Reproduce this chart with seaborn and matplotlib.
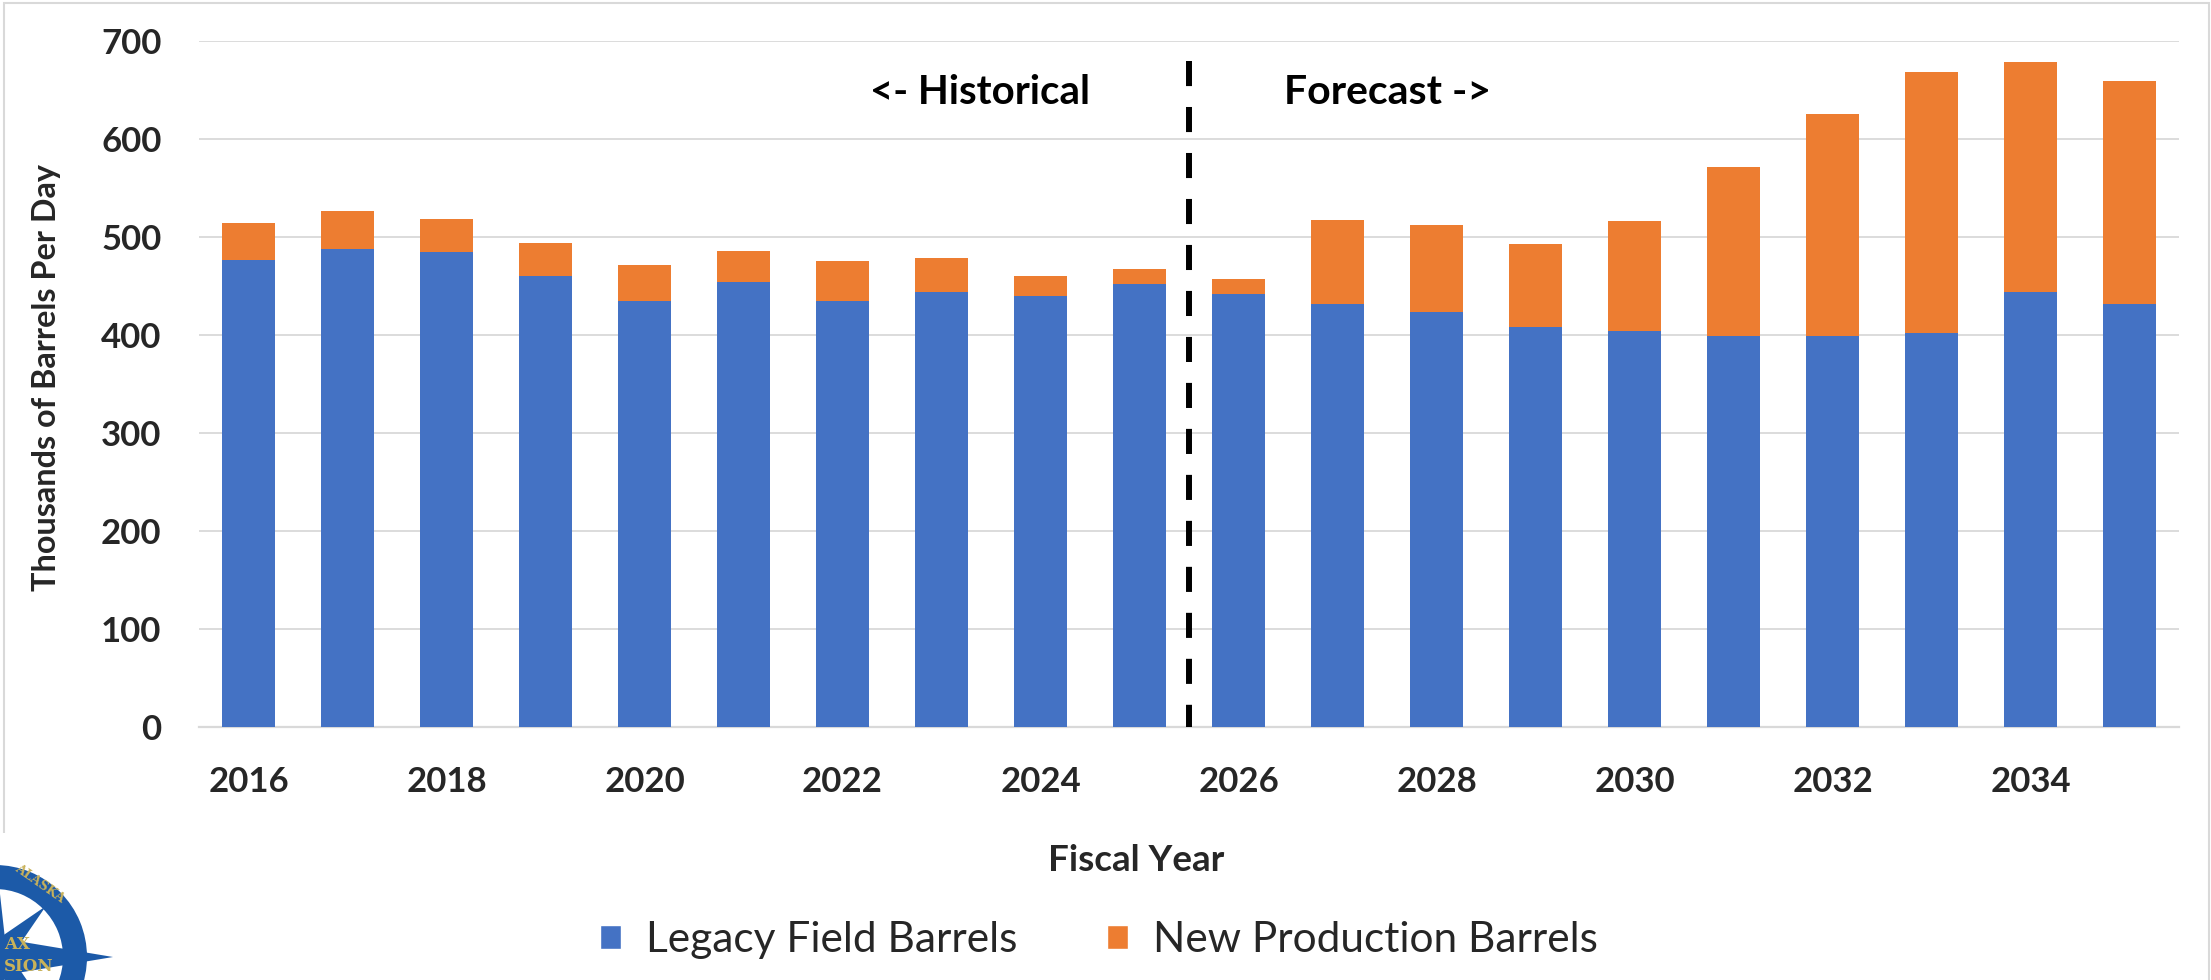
import matplotlib
matplotlib.use("Agg")
import matplotlib.pyplot as plt
import seaborn as sns
import numpy as np
from matplotlib.patches import Rectangle, Wedge, Polygon, Patch

# ---------------- data ----------------
years = [str(y) for y in range(2016, 2036)]
legacy = [476, 488, 484, 460, 435, 454, 435, 444, 440, 452,
          442, 431, 423, 408, 404, 399, 399, 402, 444, 431]
new_prod = [38, 38, 34, 34, 36, 32, 40, 34, 20, 15,
            15, 86, 89, 85, 112, 172, 226, 266, 234, 228]
tick_years = ["2016", "2018", "2020", "2022", "2024",
              "2026", "2028", "2030", "2032", "2034"]
series_names = ["Legacy Field Barrels", "New Production Barrels"]
y_ticks = [0, 100, 200, 300, 400, 500, 600, 700]

BLUE = "#4472C4"
ORANGE = "#ED7D31"
GRID = "#D9D9D9"

sns.set_style("white")
plt.rcParams["font.family"] = ["Lato", "DejaVu Sans"]

W, H = 2211, 980
fig = plt.figure(figsize=(W / 100, H / 100), dpi=100)

def fx(px):
    return px / W

def fy(py):
    return 1 - py / H

# outer light border
fig.patches.append(Rectangle((fx(4), fy(1100)), fx(2209) - fx(4), fy(3) - fy(1100),
                             transform=fig.transFigure, fill=False,
                             edgecolor=GRID, linewidth=1.5, zorder=-2))

ax = fig.add_axes([fx(199), fy(727), fx(2179) - fx(199), fy(40.7) - fy(727)])

totals = [a + b for a, b in zip(legacy, new_prod)]
sns.barplot(x=years, y=totals, color=ORANGE, saturation=1, width=0.53,
            ax=ax, zorder=2, linewidth=0)
sns.barplot(x=years, y=legacy, color=BLUE, saturation=1, width=0.53,
            ax=ax, zorder=3, linewidth=0)

ax.set_xlim(-0.5, len(years) - 0.5)
ax.set_ylim(0, 700)
ax.set_yticks(y_ticks)
ax.set_yticklabels([str(v) for v in y_ticks], fontsize=25, fontweight="bold")
ax.set_xticks([years.index(t) for t in tick_years])
ax.set_xticklabels(tick_years, fontsize=25, fontweight="bold")
ax.tick_params(axis="y", length=0, pad=27)
ax.tick_params(axis="x", length=0, pad=28)
ax.set_xlabel("")
ax.set_ylabel("")

ax.set_axisbelow(True)
ax.yaxis.grid(True, color=GRID, linewidth=1.3, zorder=0)
for s in ["top", "right", "left"]:
    ax.spines[s].set_visible(False)
ax.spines["bottom"].set_color(GRID)
ax.spines["bottom"].set_linewidth(1.6)

# divider
ax.plot([9.5, 9.5], [679, 0], color="black", linewidth=4.3,
        linestyle=(0, (4.2, 3.5)), zorder=5, solid_capstyle="butt")
ax.text(8.5, 647, "<- Historical", ha="right", va="center",
        fontsize=29, fontweight="bold", color="black")
ax.text(10.46, 647, "Forecast ->", ha="left", va="center",
        fontsize=29.5, fontweight="bold", color="black")

fig.text(fx(47), fy(377), "Thousands of Barrels Per Day", rotation=90,
         ha="center", va="center", fontsize=23.3, fontweight="bold")
fig.text(fx(1136), fy(860), "Fiscal Year", ha="center", va="center",
         fontsize=26.5, fontweight="bold")

handles = [Patch(facecolor=BLUE), Patch(facecolor=ORANGE)]
fig.legend(handles, series_names, ncol=2, loc="center",
           bbox_to_anchor=(fx(1099), fy(940)), frameon=False, fontsize=30.5,
           handlelength=0.5, handleheight=0.5, handletextpad=0.6,
           columnspacing=2.1)

# logo (partial seal at bottom-left)
lax = fig.add_axes([0, 0, fx(130), fy(833)], zorder=10)
lax.set_xlim(0, 130)
lax.set_ylim(980, 833)
lax.axis("off")
lax.add_patch(Rectangle((0, 833), 122, 150, facecolor="white", edgecolor="none"))
cx, cy = -5, 957
LB = "#1C5AA8"
GOLD = "#C9B25A"
lax.add_patch(Wedge((cx, cy), 92, 0, 360, width=24, facecolor=LB, edgecolor="none"))
pts = [(0, -108), (10, -18), (118, 0), (10, 18), (0, 108), (-10, 18), (-118, 0), (-10, -18)]
lax.add_patch(Polygon([(cx + a, cy + b) for a, b in pts], closed=True,
                      facecolor=LB, edgecolor="none"))
for ang in [45, 135, 225, 315]:
    r = np.deg2rad(ang)
    tip = (cx + 72 * np.cos(r), cy - 72 * np.sin(r))
    l1 = (cx + 15 * np.cos(r + 0.9), cy - 15 * np.sin(r + 0.9))
    l2 = (cx + 15 * np.cos(r - 0.9), cy - 15 * np.sin(r - 0.9))
    lax.add_patch(Polygon([tip, l1, (cx, cy), l2], closed=True,
                          facecolor=LB, edgecolor="none"))
lax.text(4, 944, "AX", color=GOLD, fontsize=12, fontweight="bold",
         family="DejaVu Serif", ha="left", va="center")
lax.text(4, 966, "SION", color=GOLD, fontsize=12, fontweight="bold",
         family="DejaVu Serif", ha="left", va="center")
lax.text(40, 884, "ALASKA", color=GOLD, fontsize=9, fontweight="bold",
         family="DejaVu Serif", ha="center", va="center", rotation=-35)

fig.savefig("out.png", dpi=100)
